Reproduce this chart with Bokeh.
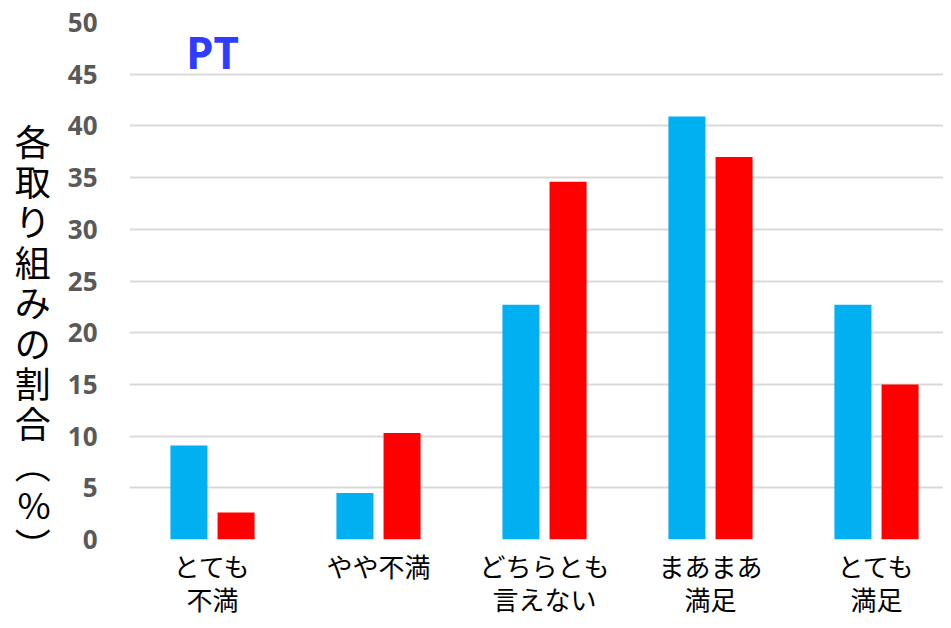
from bokeh.plotting import figure
from bokeh.models import Range1d, FixedTicker, Label, ColumnDataSource
from bokeh.embed import file_html
from bokeh.resources import INLINE

categories = ["とても\n不満", "やや不満", "どちらとも\n言えない", "まあまあ\n満足", "とても\n満足"]
blue_values = [9.1, 4.5, 22.7, 40.9, 22.7]
red_values = [2.6, 10.3, 34.6, 37.0, 15.0]
y_ticks = [0, 5, 10, 15, 20, 25, 30, 35, 40, 45, 50]
y_title = ["各", "取", "り", "組", "み", "の", "割", "合", "︵", "%", "︶"]
panel_title = "PT"

BLUE = "#00B0F0"
RED = "#FF0000"
JP = "Noto Sans CJK JP"

xs = [i + 0.5 for i in range(len(categories))]
src = ColumnDataSource(dict(
    xb=[x - 0.142 for x in xs], xr=[x + 0.142 for x in xs],
    blue=blue_values, red=red_values))

p = figure(width=943, height=620, output_backend="svg", toolbar_location=None,
           x_range=Range1d(0, (943 - 129) / 166), y_range=Range1d(0, 50),
           min_border_left=129, min_border_right=0, min_border_top=22,
           min_border_bottom=81)
p.outline_line_color = None
p.background_fill_color = "white"
p.border_fill_color = "white"

p.vbar(x="xb", top="blue", width=0.223, source=src, fill_color=BLUE, line_color=None)
p.vbar(x="xr", top="red", width=0.223, source=src, fill_color=RED, line_color=None)

p.xgrid.grid_line_color = None
p.ygrid.grid_line_color = "#D9D9D9"
p.ygrid.grid_line_width = 2
p.ygrid.ticker = FixedTicker(ticks=y_ticks)

p.yaxis.ticker = FixedTicker(ticks=y_ticks)
p.yaxis.axis_line_color = None
p.yaxis.major_tick_line_color = None
p.yaxis.minor_tick_line_color = None
p.yaxis.major_tick_out = 0
p.yaxis.major_label_standoff = 32
p.yaxis.major_label_text_font = "Open Sans"
p.yaxis.major_label_text_font_style = "bold"
p.yaxis.major_label_text_font_size = "26px"
p.yaxis.major_label_text_color = "#595959"

# vertical (stacked, upright) axis title
p.yaxis.axis_label = "\n\n\n" + "\n".join(y_title)
p.yaxis.axis_label_orientation = "horizontal"
p.yaxis.axis_label_text_font = JP
p.yaxis.axis_label_text_font_size = "36px"
p.yaxis.axis_label_text_font_style = "normal"
p.yaxis.axis_label_text_color = "black"
p.yaxis.axis_label_text_line_height = 0.777
p.yaxis.axis_label_standoff = 14

p.xaxis.ticker = FixedTicker(ticks=xs)
p.xaxis.major_label_overrides = {x: c for x, c in zip(xs, categories)}
p.xaxis.axis_line_color = None
p.xaxis.major_tick_line_color = None
p.xaxis.minor_tick_line_color = None
p.xaxis.major_tick_out = 0
p.xaxis.major_label_standoff = 7
p.xaxis.major_label_text_font = JP
p.xaxis.major_label_text_font_size = "26px"
p.xaxis.major_label_text_color = "black"
p.xaxis.major_label_text_line_height = 0.9

p.add_layout(Label(x=83, y=488, x_units="screen", y_units="screen", text=panel_title,
                   text_align="center", text_baseline="middle", text_font="Open Sans",
                   text_font_style="bold", text_font_size="44px", text_color="#2E3DFF"))

open("out.html", "w").write(file_html(p, INLINE))
